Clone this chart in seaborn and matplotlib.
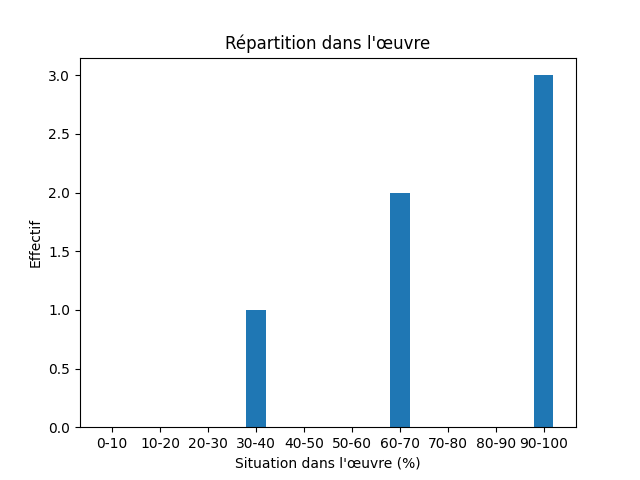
import matplotlib
matplotlib.use("Agg")
import matplotlib.pyplot as plt
import pandas as pd
import seaborn as sns

tranches = ["0-10", "10-20", "20-30", "30-40", "40-50",
            "50-60", "60-70", "70-80", "80-90", "90-100"]
effectifs = [0, 0, 0, 1, 0, 0, 2, 0, 0, 3]

df = pd.DataFrame({"tranche": tranches, "effectif": effectifs})

fig, ax = plt.subplots(figsize=(6.4, 4.8), dpi=100)
sns.barplot(data=df, x="tranche", y="effectif", order=tranches,
            color="#1f77b4", saturation=1, width=0.4, linewidth=0, ax=ax)

# seaborn pins the categorical limits to (-0.5, n-0.5); go back to matplotlib margins
ax.relim()
ax.autoscale(enable=True, axis="x")

ax.set_title("Répartition dans l'œuvre")
ax.set_xlabel("Situation dans l'œuvre (%)")
ax.set_ylabel("Effectif")

fig.savefig("out.png", dpi=100)
